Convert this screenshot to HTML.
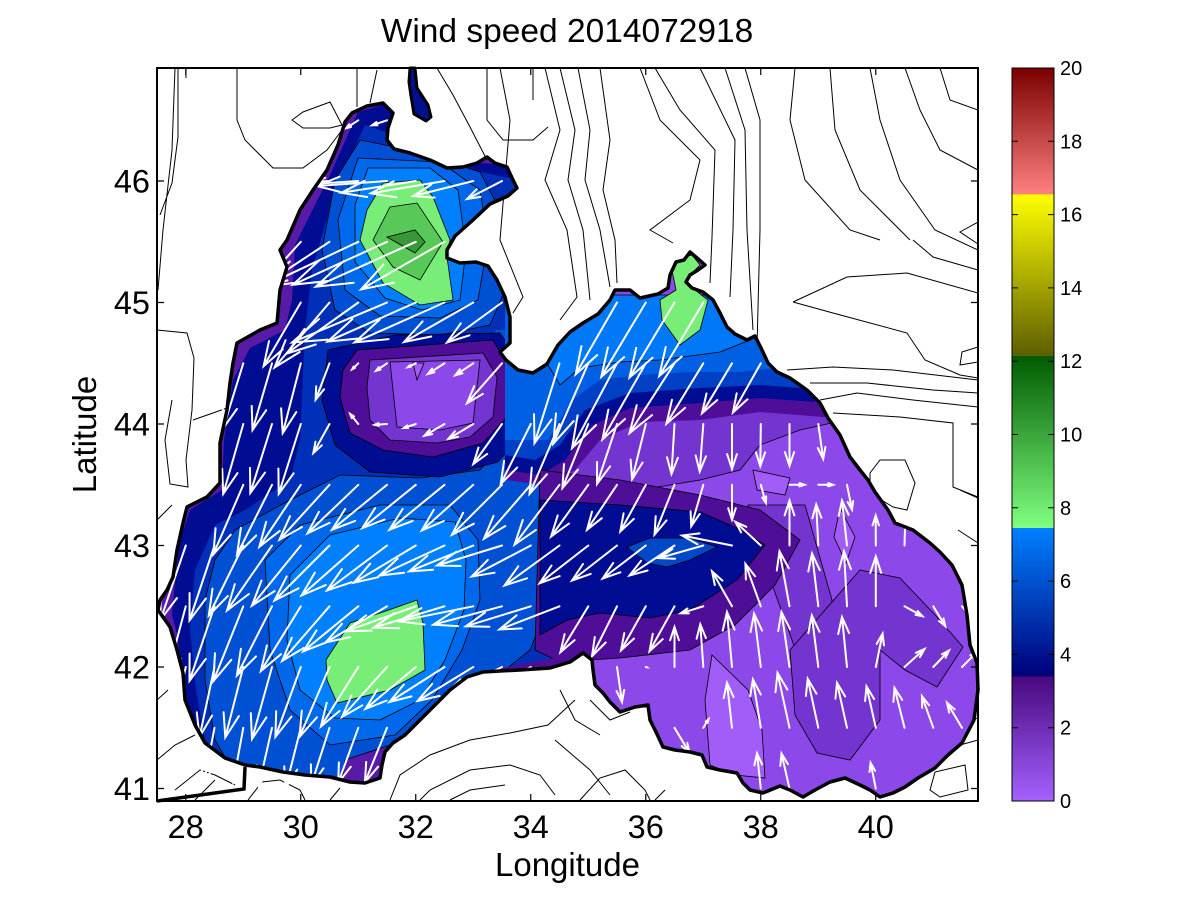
<!DOCTYPE html>
<html>
<head>
<meta charset="utf-8">
<style>
html,body{margin:0;padding:0;background:#fff;}
svg{display:block;font-family:"Liberation Sans",Arial,sans-serif;}
</style>
</head>
<body>
<svg id="root" width="1201" height="901" viewBox="0 0 1201 901" xmlns="http://www.w3.org/2000/svg">
<defs>
<clipPath id="sea">
<polygon points="345,122 352,113 367,106 383,103 393,113 388,128 387,140 394,149 410,153 430,160 447,168 463,167 477,163 487,157 495,163 507,167 513,180 517,188 508,196 490,204 473,220 455,236 447,250 447,258 460,263 476,262 488,266 497,280 505,297 510,317 510,343 500,352 506,360 518,370 533,373 547,364 558,345 570,332 583,323 598,314 610,300 615,290 630,290 640,298 658,294 668,288 670,275 676,262 684,260 690,252 697,258 705,265 698,270 690,275 686,282 692,288 703,292 713,300 720,313 727,327 735,334 747,340 755,336 762,350 768,363 777,372 790,378 807,390 820,403 828,418 840,435 850,457 860,470 868,480 875,492 888,510 895,523 913,530 930,543 940,552 952,565 962,585 967,615 970,645 977,663 978,690 974,720 962,743 948,755 935,768 918,778 905,787 893,793 880,797 870,790 860,785 845,778 830,782 815,790 803,797 790,790 780,786 763,793 750,790 743,783 737,773 720,770 707,767 702,755 690,752 675,750 663,747 656,732 650,720 648,705 635,707 620,712 610,702 603,693 595,685 593,670 592,660 583,653 570,662 550,668 520,670 500,671 483,672 467,677 450,690 433,707 417,723 405,735 393,743 385,752 382,765 380,778 365,783 350,782 330,777 305,775 283,772 260,767 245,765 225,758 205,743 195,725 185,700 183,673 177,650 170,627 163,617 158,610 160,600 167,590 173,577 177,550 183,523 187,507 207,497 220,483 220,443 227,410 230,383 233,363 237,343 260,330 277,323 280,290 287,267 280,250 287,240 300,210 313,190 327,170 338,145"/>
</clipPath>
<clipPath id="plot"><rect x="157" y="68" width="821" height="733"/></clipPath>
<linearGradient id="cb1" x1="0" y1="0" x2="0" y2="1"><stop offset="0" stop-color="#7a0000"/><stop offset="1" stop-color="#ff8080"/></linearGradient>
<linearGradient id="cb2" x1="0" y1="0" x2="0" y2="1"><stop offset="0" stop-color="#ffff00"/><stop offset="1" stop-color="#5e5e00"/></linearGradient>
<linearGradient id="cb3" x1="0" y1="0" x2="0" y2="1"><stop offset="0" stop-color="#005a00"/><stop offset="1" stop-color="#80ff80"/></linearGradient>
<linearGradient id="cb4" x1="0" y1="0" x2="0" y2="1"><stop offset="0" stop-color="#0080ff"/><stop offset="1" stop-color="#00007a"/></linearGradient>
<linearGradient id="cb5" x1="0" y1="0" x2="0" y2="1"><stop offset="0" stop-color="#48087e"/><stop offset="1" stop-color="#a462ff"/></linearGradient>
</defs>

<rect x="0" y="0" width="1201" height="901" fill="#fff"/>

<!-- land contour lines -->
<g clip-path="url(#plot)" fill="none" stroke="#000" stroke-width="1">
<path d="M175,68 L172,150 L163,230 L158,290 M178,68 L178,137 L172,183 L160,215 M186,68 L186,78
M237,68 L237,120 L245,140 L273,168 L303,168 L327,150 L342,130
M292,120 L303,112 L330,102 L342,125 L330,128 L303,128 Z
M357,68 L357,107 M377,70 L370,103
M157,330 L187,333 L194,358 L192,410 L186,460 L188,487 L170,484 L165,440 L172,400
M193,420 L230,407 M157,520 L172,505
M157,760 L175,745 L195,735 M157,700 L168,690 M175,790 L200,770 L215,775 L235,785 M195,800 L215,780
M248,800 L262,782 L280,780 L300,790 L305,800 M330,800 L340,788
M390,800 L400,775 L430,755 L470,740 L510,733 L548,725 L575,700
M420,800 L430,790 L470,770 L510,765 L540,775 L555,795
M450,800 L470,790 L505,785
M580,800 L600,778 L625,770 L645,790 L650,800
M555,740 L590,770 L610,795 M655,800 L665,790
M560,690 L575,720 L600,735 M590,700 L610,720 L630,712
M930,790 L935,772 L965,765 L968,790 L940,797 Z M970,720 L978,718 M960,745 L978,740
M437,68 L453,95 L470,127 L487,160
M487,68 L487,120 L503,140 L533,140 L548,127 M533,68 L533,100
M500,68 L510,120 L505,180 L500,240 L523,297 L513,313
M545,68 L560,130 L545,180 L567,230 L577,297 L560,320
M560,68 L575,130 L568,180 L583,230 L590,300
M578,68 L590,130 L585,180 L600,230 L610,287
M600,68 L610,140 L603,190 L615,240 L617,283
M640,68 L660,120 L700,160 L690,200 L650,230 L673,243
M655,68 L680,110 L715,150 L712,237 L710,283
M700,68 L735,140 L733,230 L730,297
M725,68 L745,130 L747,230 L753,330
M745,68 L760,120 L760,230 L757,347
M795,68 L790,120 L805,180 L850,230 L880,240
M830,68 L835,130 L860,190 L910,240
M870,68 L880,120 L900,180 L935,230 L978,250
M905,68 L920,110 L940,150 L978,170
M940,68 L950,100 L978,110
M913,240 L933,257 L978,270
M978,222 L960,232 L978,244
M793,302 L847,277 L907,273 L978,293
M793,302 L833,313 L907,333 L925,360 L960,375 L978,378
M978,347 L962,352 L960,365 L978,362
M787,370 L833,367 L893,370 L978,380
M810,383 L867,383 L933,390 L978,393
M820,400 L857,393 L913,400 L978,407
M833,413 L900,417 L953,423 L953,487 L978,497
M870,473 L880,460 L905,460 L915,483 L907,510 L893,507 L870,493 Z
M960,490 L978,498 M958,530 L978,543"/>
</g>

<!-- sea filled contours -->
<g clip-path="url(#sea)">
<rect x="150" y="60" width="840" height="750" fill="#8c48e8"/>
<polygon fill="#5a1aa8" points="140,60 540,60 560,300 570,700 450,820 140,820"/>
<polygon fill="#000c92" points="358,112 400,100 420,160 520,165 545,300 560,470 570,700 400,810 200,810 195,740 185,690 176,630 172,615 174,590 180,540 190,510 222,490 224,440 233,380 250,348 285,330 292,300 295,245 330,175"/>
<polygon fill="#0030b8" points="365,125 395,135 470,170 520,180 540,300 550,470 570,700 400,810 215,810 205,740 196,690 190,630 195,570 215,525 245,510 290,480 300,440 305,330 312,270 335,190"/>
<g stroke="#000" stroke-width="0.8">
<polygon fill="#0050d4" points="360,140 410,150 480,172 505,220 505,290 490,325 440,335 370,333 335,310 322,250 335,180"/>
<polygon fill="#0050d4" points="235,530 290,500 340,475 420,478 480,470 515,430 535,400 545,480 550,600 530,650 480,690 430,725 390,760 360,800 250,800 215,740 205,680 205,600 215,560"/>
<polygon fill="#0050d4" stroke="none" points="495,330 560,330 575,400 560,480 530,490 505,450"/>
<polygon fill="#0068ea" points="358,158 440,162 480,190 488,240 478,300 440,318 380,316 345,290 338,220"/>
<polygon fill="#0068ea" points="265,560 300,525 380,505 450,505 478,540 480,600 462,650 432,700 395,735 330,745 290,710 270,650"/>
<polygon fill="#0080ff" points="368,168 430,168 458,190 466,250 460,300 422,310 385,298 355,262 355,205"/>
<polygon fill="#0080ff" points="290,575 330,535 400,518 455,522 466,560 464,610 445,660 420,700 380,720 335,718 300,690 287,640"/>
<polygon fill="#78ee78" points="383,183 420,180 433,197 450,240 447,257 453,300 420,305 383,283 360,240 367,210"/>
<polygon fill="#58c858" points="390,207 417,203 443,242 420,280 393,267 373,240"/>
<polygon fill="#389838" points="387,237 415,230 425,242 415,253"/>
<polygon fill="#78ee78" points="326,660 350,623 380,613 417,600 423,623 425,670 390,690 337,703 327,680"/>
<polygon fill="#000c92" points="328,350 395,335 500,333 522,365 525,430 498,462 440,477 370,472 335,445 322,400"/>
<polygon fill="#4e0e98" points="357,350 493,340 510,370 507,417 483,443 433,457 383,450 350,433 340,397 343,370"/>
<polygon fill="#7434d0" points="370,360 483,353 497,377 493,417 470,437 437,443 390,440 370,420 367,387"/>
<polygon fill="#8c48e8" points="390,362 480,360 473,423 440,430 397,427"/>
<polygon fill="#a25df8" points="413,363 424,363 417,380"/>
<polygon fill="#5a1aa8" points="345,760 390,745 395,790 340,795"/>
<polygon fill="#7434d0" points="560,395 835,400 845,420 800,430 760,445 740,470 700,480 640,490 580,495 560,480"/>
<polygon fill="#7434d0" points="748,505 805,505 832,600 830,690 812,700 792,640 765,565"/>
<polygon fill="#7434d0" points="790,650 860,570 900,578 937,617 963,647 937,687 905,670 880,650 880,720 850,760 817,753 795,715"/>
<polygon fill="#a25df8" points="753,470 790,478 785,495 757,490"/>
<polygon fill="#a25df8" points="840,508 855,537 846,563 834,537"/>
<polygon fill="#a25df8" points="712,655 748,690 762,730 765,778 735,775 710,765 705,700"/>
<polygon fill="#4e0e98" stroke="none" points="505,330 785,330 835,418 760,412 700,420 640,422 600,440 575,470 545,485 505,480"/>
<polygon fill="#000c92" stroke="none" points="505,330 780,330 815,402 760,398 700,403 630,408 592,425 565,460 540,475 505,470"/>
<polygon fill="#0040c4" stroke="none" points="505,320 775,320 800,388 760,385 700,388 630,393 585,410 560,445 535,460 505,455"/>
<polygon fill="#0060e4" stroke="none" points="505,300 765,300 777,368 740,372 690,372 640,375 600,380 572,400 548,440 505,440"/>
<polygon fill="#0078f8" points="545,310 600,295 720,295 750,340 720,352 660,360 620,362 580,368 560,385 545,360"/>
<polygon fill="#78ee78" points="660,300 676,290 672,270 680,258 692,255 700,265 690,275 695,290 708,300 700,330 680,345 662,320"/>
<polygon fill="#4e0e98" points="540,470 620,480 700,495 760,510 800,540 775,585 735,625 690,650 620,658 560,662 535,650"/>
<polygon fill="#000c92" points="540,500 620,505 700,512 737,528 765,545 737,580 690,610 650,618 600,613 567,620 540,635"/>
<polygon fill="#0048c8" points="627,547 650,538 690,538 717,547 690,560 667,567 647,563"/>
<polygon fill="#4e0e98" stroke="none" points="480,672 570,655 590,660 590,680 480,690"/>
</g>
</g>

<!-- wind arrows -->
<path id="arrows" fill="none" stroke="#fff" stroke-width="2" stroke-linecap="round" d=""/>

<!-- estuary + coastline -->
<polygon points="410,68 415,68 417,88 428,105 431,117 426,121 414,114 411,96 409,82" fill="#00108f" stroke="#000" stroke-width="3" stroke-linejoin="round"/>
<polygon id="coast" fill="none" stroke="#000" stroke-width="3.5" stroke-linejoin="round" points="345,122 352,113 367,106 383,103 393,113 388,128 387,140 394,149 410,153 430,160 447,168 463,167 477,163 487,157 495,163 507,167 513,180 517,188 508,196 490,204 473,220 455,236 447,250 447,258 460,263 476,262 488,266 497,280 505,297 510,317 510,343 500,352 506,360 518,370 533,373 547,364 558,345 570,332 583,323 598,314 610,300 615,290 630,290 640,298 658,294 668,288 670,275 676,262 684,260 690,252 697,258 705,265 698,270 690,275 686,282 692,288 703,292 713,300 720,313 727,327 735,334 747,340 755,336 762,350 768,363 777,372 790,378 807,390 820,403 828,418 840,435 850,457 860,470 868,480 875,492 888,510 895,523 913,530 930,543 940,552 952,565 962,585 967,615 970,645 977,663 978,690 974,720 962,743 948,755 935,768 918,778 905,787 893,793 880,797 870,790 860,785 845,778 830,782 815,790 803,797 790,790 780,786 763,793 750,790 743,783 737,773 720,770 707,767 702,755 690,752 675,750 663,747 656,732 650,720 648,705 635,707 620,712 610,702 603,693 595,685 593,670 592,660 583,653 570,662 550,668 520,670 500,671 483,672 467,677 450,690 433,707 417,723 405,735 393,743 385,752 382,765 380,778 365,783 350,782 330,777 305,775 283,772 260,767 245,765 225,758 205,743 195,725 185,700 183,673 177,650 170,627 163,617 158,610 160,600 167,590 173,577 177,550 183,523 187,507 207,497 220,483 220,443 227,410 230,383 233,363 237,343 260,330 277,323 280,290 287,267 280,250 287,240 300,210 313,190 327,170 338,145"/>
<polyline points="157,801 244,789 245,767" fill="none" stroke="#000" stroke-width="3.5"/>

<!-- axes box -->
<rect x="157" y="68" width="821" height="733" fill="none" stroke="#000" stroke-width="2"/>
<g stroke="#000" stroke-width="1.2">
<path d="M185.75,801 v-7 M300.75,801 v-7 M415.75,801 v-7 M530.75,801 v-7 M645.75,801 v-7 M760.75,801 v-7 M875.75,801 v-7
M185.75,68 v7 M300.75,68 v7 M415.75,68 v7 M530.75,68 v7 M645.75,68 v7 M760.75,68 v7 M875.75,68 v7
M157,181 h7 M157,302.5 h7 M157,424 h7 M157,545.5 h7 M157,667 h7 M157,788.5 h7
M978,181 h-7 M978,302.5 h-7 M978,424 h-7 M978,545.5 h-7 M978,667 h-7 M978,788.5 h-7"/>
</g>

<!-- tick labels -->
<g font-size="32.5" fill="#000" text-anchor="middle">
<text x="185.75" y="838">28</text>
<text x="300.75" y="838">30</text>
<text x="415.75" y="838">32</text>
<text x="530.75" y="838">34</text>
<text x="645.75" y="838">36</text>
<text x="760.75" y="838">38</text>
<text x="875.75" y="838">40</text>
</g>
<g font-size="32.5" fill="#000" text-anchor="end">
<text x="150" y="192.5">46</text>
<text x="150" y="314">45</text>
<text x="150" y="435.5">44</text>
<text x="150" y="557">43</text>
<text x="150" y="678.5">42</text>
<text x="150" y="800">41</text>
</g>

<text x="567" y="42" font-size="33.5" text-anchor="middle" fill="#000">Wind speed 2014072918</text>
<text x="567.5" y="876" font-size="33" text-anchor="middle" fill="#000">Longitude</text>
<text transform="translate(96,434.5) rotate(-90)" x="0" y="0" font-size="33" text-anchor="middle" fill="#000">Latitude</text>

<!-- colorbar -->
<rect x="1012" y="68" width="42" height="126.5" fill="url(#cb1)"/>
<rect x="1012" y="194.4" width="42" height="161.4" fill="url(#cb2)"/>
<rect x="1012" y="355.7" width="42" height="172.4" fill="url(#cb3)"/>
<rect x="1012" y="528" width="42" height="148.5" fill="url(#cb4)"/>
<rect x="1012" y="676.4" width="42" height="124.6" fill="url(#cb5)"/>
<rect x="1012" y="68" width="42" height="733" fill="none" stroke="#000" stroke-width="1"/>
<g stroke="#000" stroke-width="1">
<path d="M1012,727.7 h6 M1012,654.4 h6 M1012,581.1 h6 M1012,507.8 h6 M1012,434.5 h6 M1012,361.2 h6 M1012,287.9 h6 M1012,214.6 h6 M1012,141.3 h6
M1054,727.7 h-6 M1054,654.4 h-6 M1054,581.1 h-6 M1054,507.8 h-6 M1054,434.5 h-6 M1054,361.2 h-6 M1054,287.9 h-6 M1054,214.6 h-6 M1054,141.3 h-6"/>
</g>
<g font-size="20" fill="#000">
<text x="1060" y="808">0</text>
<text x="1060" y="734.7">2</text>
<text x="1060" y="661.4">4</text>
<text x="1060" y="588.1">6</text>
<text x="1060" y="514.8">8</text>
<text x="1060" y="441.5">10</text>
<text x="1060" y="368.2">12</text>
<text x="1060" y="294.9">14</text>
<text x="1060" y="221.6">16</text>
<text x="1060" y="148.3">18</text>
<text x="1060" y="75">20</text>
</g>
</svg>

<script>
(function(){
var pts=document.getElementById('coast').getAttribute('points').trim().split(/\s+/).map(function(p){return p.split(',').map(Number);});
function inside(x,y){var c=false;for(var i=0,j=pts.length-1;i<pts.length;j=i++){var xi=pts[i][0],yi=pts[i][1],xj=pts[j][0],yj=pts[j][1];if(((yi>y)!=(yj>y))&&(x<(xj-xi)*(y-yi)/(yj-yi)+xi))c=!c;}return c;}
var ctrl=[
[358,120,-12,8],[387,120,-15,5],
[340,181,-45,2],[387,181,-70,5],[430,181,-75,12],[473,181,-60,15],[502,181,-35,18],
[300,242,-45,50],[358,242,-95,45],[416,242,-100,45],[473,242,-70,55],
[272,302,-20,65],[330,302,-55,65],[387,302,-95,40],[444,302,-90,40],[502,302,-55,40],
[243,363,-20,65],[300,363,-18,70],[358,363,-6,6],[416,363,-8,4],[473,363,-18,12],[502,363,-35,40],
[243,424,-20,70],[300,424,-22,70],[358,424,-8,-10],[416,424,-12,4],[473,424,-25,15],[530,424,-30,60],
[215,485,-25,70],[272,485,-35,70],[330,485,-50,55],[387,485,-55,45],[444,485,-55,45],[502,485,-50,50],[559,485,-45,60],
[215,545,-25,75],[272,545,-45,65],[330,545,-55,55],[387,545,-60,45],[444,545,-65,30],[502,545,-65,20],[559,545,-55,40],
[186,606,-20,75],[243,606,-30,75],[300,606,-40,65],[358,606,-55,45],[416,606,-70,25],[473,606,-75,15],[530,606,-65,20],
[215,667,-15,70],[272,667,-20,72],[330,667,-30,70],[387,667,-45,50],[444,667,-55,35],
[243,727,-10,55],[300,727,-15,60],[358,727,-20,55],
[559,363,-25,80],[617,363,-45,85],[675,302,-45,75],[675,363,-45,70],[733,363,-30,50],
[559,424,-30,70],[617,424,-20,60],[675,424,-3,50],[733,424,0,45],[790,424,0,42],[818,424,5,35],
[617,485,-30,45],[675,485,-20,50],[733,485,0,35],[790,485,15,0],[818,485,15,0],[847,485,5,25],
[617,545,-45,35],[675,545,-45,30],[733,545,-50,-10],[790,545,0,-45],[847,545,-5,-45],[876,545,0,-30],
[617,606,-25,50],[675,606,-25,45],[733,606,-20,-35],[790,606,-10,-55],[847,606,-3,-55],[876,606,0,-50],[904,606,18,10],[933,606,12,20],
[617,667,5,35],[675,667,0,-40],[733,667,-5,-55],[790,667,-8,-55],[847,667,-5,-50],[904,667,20,-18],[962,667,15,-15],
[675,727,15,25],[733,727,-5,-45],[790,727,-12,-55],[847,727,-10,-45],[904,727,-10,-40],[962,727,-15,-25],
[733,788,0,-35],[790,788,-8,-35],[847,788,-5,-25],[904,788,-5,-25]
];
function field(x,y){var su=0,sv=0,sw=0;for(var k=0;k<ctrl.length;k++){var c=ctrl[k];var d2=(x-c[0])*(x-c[0])+(y-c[1])*(y-c[1])+1;var w=1/(d2*d2);su+=w*c[2];sv+=w*c[3];sw+=w;}return [su/sw,sv/sw];}
var d='';var a=0.33,b=0.33;
for(var lon=28;lon<=41.6;lon+=0.5){for(var lat=41;lat<=46.6;lat+=0.5){
var x=157+(lon-27.5)*57.5,y=181+(46-lat)*121.5;
if(!inside(x,y))continue;
var f=field(x,y),u=f[0],v=f[1];var tx=x+u,ty=y+v;
d+='M'+x.toFixed(1)+','+y.toFixed(1)+'L'+tx.toFixed(1)+','+ty.toFixed(1)+
'M'+(tx-a*(u+b*v)).toFixed(1)+','+(ty-a*(v-b*u)).toFixed(1)+'L'+tx.toFixed(1)+','+ty.toFixed(1)+'L'+(tx-a*(u-b*v)).toFixed(1)+','+(ty-a*(v+b*u)).toFixed(1);
}}
document.getElementById('arrows').setAttribute('d',d);
})();
</script>
</body>
</html>
